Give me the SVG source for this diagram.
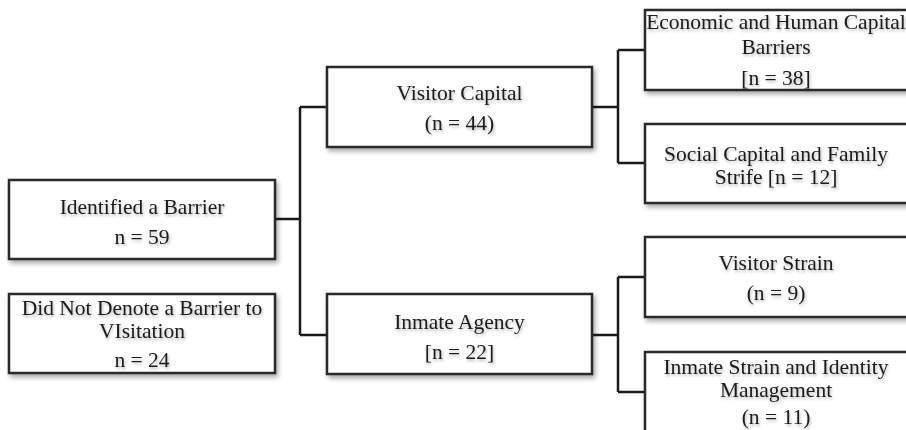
<svg xmlns="http://www.w3.org/2000/svg" width="906" height="430" viewBox="0 0 906 430">
<defs>
<filter id="sh" x="-10%" y="-10%" width="130%" height="140%">
<feGaussianBlur in="SourceAlpha" stdDeviation="2.5"/>
<feOffset dx="2" dy="3" result="b"/>
<feComponentTransfer><feFuncA type="linear" slope="0.35"/></feComponentTransfer>
<feMerge><feMergeNode/><feMergeNode in="SourceGraphic"/></feMerge>
</filter>
<filter id="ts" x="-5%" y="-30%" width="110%" height="160%">
<feGaussianBlur in="SourceAlpha" stdDeviation="1.5"/>
<feOffset dx="1" dy="2"/>
<feComponentTransfer><feFuncA type="linear" slope="0.3"/></feComponentTransfer>
<feMerge><feMergeNode/><feMergeNode in="SourceGraphic"/></feMerge>
</filter>
</defs>
<style>
.box{fill:#fff;stroke:#2b2b2b;stroke-width:2.5;filter:url(#sh)}
.t{font-family:"Liberation Serif","DejaVu Serif",serif;font-size:21.5px;fill:#1a1a1a;text-anchor:middle;filter:url(#ts)}
.c{fill:none;stroke:#1a1a1a;stroke-width:2.5}
</style>
<rect width="906" height="430" fill="#fff"/>
<g id="connectors">
<path class="c" d="M275 219 H300 M300 107 V335 M300 107 H327 M300 335 H327"/>
<path class="c" d="M592 107 H618 M618 50 V163 M618 50 H645 M618 163 H645"/>
<path class="c" d="M592 335 H618 M618 277 V392 M618 277 H645 M618 392 H645"/>
</g>
<g id="identified">
<rect class="box" x="9" y="180" width="266" height="79"/>
<text class="t" x="142" y="214">Identified a Barrier</text>
<text class="t" x="142" y="244">n = 59</text>
</g>
<g id="notdenote">
<rect class="box" x="9" y="294" width="266" height="79"/>
<text class="t" x="142" y="315">Did Not Denote a Barrier to</text>
<text class="t" x="142" y="338">VIsitation</text>
<text class="t" x="142" y="367">n = 24</text>
</g>
<g id="visitorcapital">
<rect class="box" x="327" y="67" width="265" height="80"/>
<text class="t" x="459.5" y="100">Visitor Capital</text>
<text class="t" x="459.5" y="130">(n = 44)</text>
</g>
<g id="inmateagency">
<rect class="box" x="327" y="294" width="265" height="80"/>
<text class="t" x="459.5" y="329">Inmate Agency</text>
<text class="t" x="459.5" y="359">[n = 22]</text>
</g>
<g id="economic">
<rect class="box" x="645" y="10" width="270" height="80"/>
<text class="t" x="776" y="29">Economic and Human Capital</text>
<text class="t" x="776" y="54">Barriers</text>
<text class="t" x="776" y="85">[n = 38]</text>
</g>
<g id="social">
<rect class="box" x="645" y="124" width="270" height="79"/>
<text class="t" x="776" y="161">Social Capital and Family</text>
<text class="t" x="776" y="184">Strife [n = 12]</text>
</g>
<g id="visitorstrain">
<rect class="box" x="645" y="237" width="270" height="80"/>
<text class="t" x="776" y="270">Visitor Strain</text>
<text class="t" x="776" y="300">(n = 9)</text>
</g>
<g id="inmatestrain">
<rect class="box" x="645" y="352" width="270" height="90"/>
<text class="t" x="776" y="374">Inmate Strain and Identity</text>
<text class="t" x="776" y="397">Management</text>
<text class="t" x="776" y="424">(n = 11)</text>
</g>
</svg>
